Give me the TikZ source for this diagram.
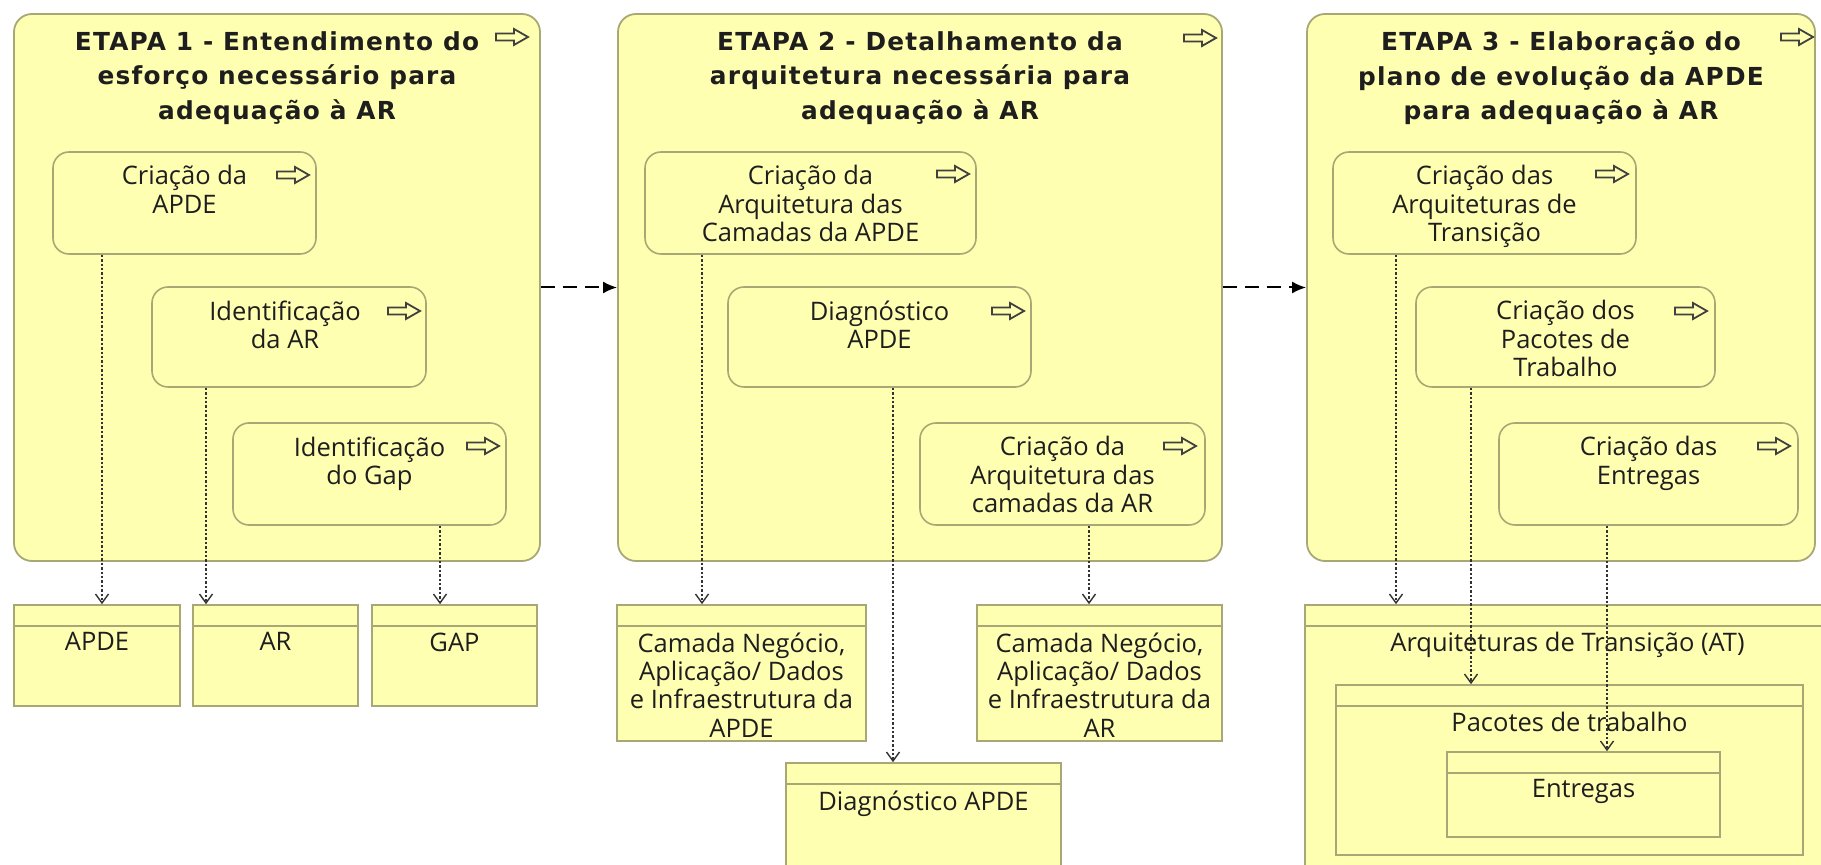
\documentclass[tikz,border=0pt]{standalone}
\usepackage{fontspec}
\setmainfont{Open Sans}
\newfontfamily\headfont[LetterSpace=5]{DejaVu Sans}
\usetikzlibrary{fit,positioning,arrows.meta}
\definecolor{boxfill}{RGB}{255,255,178}
\definecolor{boxline}{RGB}{168,168,118}
\definecolor{ink}{RGB}{30,30,30}
\tikzset{procarrow/.pic={
  \draw[draw=ink!85,line width=0.9pt,line join=miter]
    (-16,-3.5) -- (2,-3.5) -- (2,-8) -- (16,0) -- (2,8) -- (2,3.5) -- (-16,3.5) -- cycle;}}
\begin{document}
\begin{tikzpicture}
  [x=0.5pt,y=-0.5pt,every node/.style={inner sep=0pt,text=ink}]
  \tikzstyle{stage} = [draw=boxline,fill=boxfill,line width=0.9pt,rounded corners=9pt]
  \tikzstyle{task} = [draw=boxline,fill=boxfill,line width=0.8pt,rounded corners=8pt]
  \tikzstyle{obj} = [draw=boxline,fill=boxfill,line width=0.8pt]
  \tikzstyle{head} = [align=center,font=\headfont\bfseries\fontsize{12.4}{17.25}\selectfont]
  \tikzstyle{txt} = [align=center,font=\fontsize{12.75}{14.2}\selectfont]
  \tikzstyle{flow} = [draw=black,line width=1pt,dash pattern=on 7pt off 4pt,-{Latex[length=7pt,width=6pt]}]
  \tikzstyle{dep} = [draw=black!80,line width=1.1pt,dash pattern=on 1.2pt off 1pt,-{Straight Barb[length=4.5pt,width=6.5pt,line width=0.7pt]}]
  \clip (0,0) rectangle (1821,865);

  \node[stage,fit={(14,14) (540,561)}] (s1) {};
  \node[stage,fit={(618,14) (1222,561)}] (s2) {};
  \node[stage,fit={(1307,14) (1815,561)}] (s3) {};
  \node[head,below=9pt of s1.north] (h1) {ETAPA 1 - Entendimento do\\esforço necessário para\\adequação à AR};
  \node[head,below=9pt of s2.north] (h2) {ETAPA 2 - Detalhamento da\\arquitetura necessária para\\adequação à AR};
  \node[head,below=9pt of s3.north] (h3) {ETAPA 3 - Elaboração do\\plano de evolução da APDE\\para adequação à AR};
  \pic at (512,37) {procarrow};
  \pic at (1200,38) {procarrow};
  \pic at (1797,37) {procarrow};

  \node[task,fit={(53,152) (316,254)}] (t11) {};
  \node[task,fit={(152,287) (426,387)}] (t12) {};
  \node[task,fit={(233,423) (506,525)}] (t13) {};
  \node[task,fit={(645,152) (976,254)}] (t21) {};
  \node[task,fit={(728,287) (1031,387)}] (t22) {};
  \node[task,fit={(920,423) (1205,525)}] (t23) {};
  \node[task,fit={(1333,152) (1636,254)}] (t31) {};
  \node[task,fit={(1416,287) (1715,387)}] (t32) {};
  \node[task,fit={(1499,423) (1798,525)}] (t33) {};
  \node[txt,below=7pt of t11.north] (l11) {Criação da\\APDE};
  \node[txt,below=7pt of t12.north,xshift=-2pt] (l12) {Identificação\\da AR};
  \node[txt,below=7pt of t13.north] (l13) {Identificação\\do Gap};
  \node[txt,below=7pt of t21.north] (l21) {Criação da\\Arquitetura das\\Camadas da APDE};
  \node[txt,below=7pt of t22.north] (l22) {Diagnóstico\\APDE};
  \node[txt,below=7pt of t23.north] (l23) {Criação da\\Arquitetura das\\camadas da AR};
  \node[txt,below=7pt of t31.north] (l31) {Criação das\\Arquiteturas de\\Transição};
  \node[txt,below=7pt of t32.north] (l32) {Criação dos\\Pacotes de\\Trabalho};
  \node[txt,below=7pt of t33.north] (l33) {Criação das\\Entregas};
  \foreach \x/\y in {293/175,404/311,483/446,953/174,1008/311,1180/446,1612/174,1691/311,1774/446}
    \pic at (\x,\y) {procarrow};

  \node[obj,fit={(14,605) (180,706)}] (o1) {};
  \node[obj,fit={(193,605) (358,706)}] (o2) {};
  \node[obj,fit={(372,605) (537,706)}] (o3) {};
  \node[obj,fit={(617,605) (866,741)}] (o4) {};
  \node[obj,fit={(977,605) (1222,741)}] (o5) {};
  \node[obj,fit={(786,763) (1061,868)}] (o6) {};
  \node[obj,fit={(1305,605) (1830,875)}] (o7) {};
  \node[obj,fit={(1336,685) (1803,855)}] (o8) {};
  \node[obj,fit={(1447,752) (1720,837)}] (o9) {};
  \foreach \b in {o1,o2,o3,o4,o5,o6,o7,o8,o9}
    \draw[boxline,line width=0.8pt] ([yshift=-11pt]\b.north west) -- ([yshift=-11pt]\b.north east);
  \node[txt,below=14pt of o1.north] (n1) {APDE};
  \node[txt,below=14pt of o2.north] (n2) {AR};
  \node[txt,below=14pt of o3.north] (n3) {GAP};
  \node[txt,below=14pt of o4.north] (n4) {Camada Negócio,\\Aplicação/ Dados\\e Infraestrutura da\\APDE};
  \node[txt,below=14pt of o5.north] (n5) {Camada Negócio,\\Aplicação/ Dados\\e Infraestrutura da\\AR};
  \node[txt,below=14pt of o6.north] (n6) {Diagnóstico APDE};
  \node[txt,below=14pt of o7.north] (n7) {Arquiteturas de Transição (AT)};
  \node[txt,below=14pt of o8.north] (n8) {Pacotes de trabalho};
  \node[txt,below=14pt of o9.north] (n9) {Entregas};

  \draw[flow] (s1.east) -- (s2.west);
  \draw[flow] (s2.east) -- (s3.west);
  \foreach \src/\dst/\px in {t11/o1/102,t12/o2/206,t13/o3/440,t21/o4/702,t22/o6/893,t23/o5/1089,t31/o7/1396,t32/o8/1471,t33/o9/1607}
    \draw[dep] (\px,0 |- \src.south) -- (\px,0 |- \dst.north);
\end{tikzpicture}
\end{document}
